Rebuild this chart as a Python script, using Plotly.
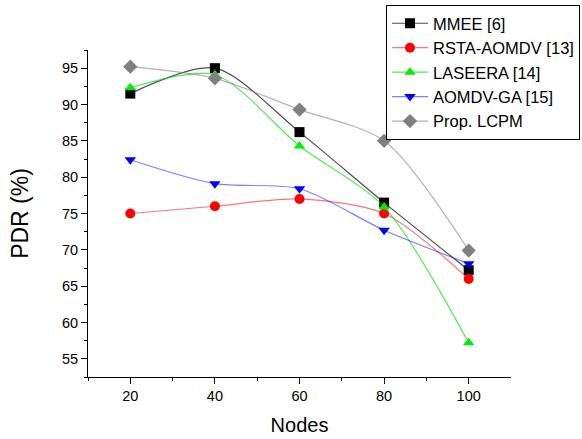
import plotly.graph_objects as go

nodes = [20, 40, 60, 80, 100]
mmee = [91.5, 95.0, 86.2, 76.5, 67.2]
rsta = [75.0, 76.0, 77.0, 75.0, 66.0]
laseera = [92.3, 94.1, 84.3, 75.9, 57.2]
aomdv_ga = [82.4, 79.1, 78.4, 72.7, 68.1]
lcpm = [95.2, 93.6, 89.3, 85.0, 69.9]

series = [
    ("MMEE [6]", mmee, "black", "rgba(0,0,0,0.7)", "square"),
    ("RSTA-AOMDV [13]", rsta, "red", "rgba(255,0,0,0.55)", "circle"),
    ("LASEERA [14]", laseera, "#00ee00", "rgba(0,230,0,0.7)", "triangle-up"),
    ("AOMDV-GA [15]", aomdv_ga, "blue", "rgba(0,0,255,0.5)", "triangle-down"),
    ("Prop. LCPM", lcpm, "gray", "rgba(128,128,128,0.6)", "diamond"),
]

fig = go.Figure()
for name, vals, mc, lc, sym in series:
    fig.add_trace(go.Scatter(
        x=nodes, y=vals, name=name, mode="lines+markers",
        line=dict(color=lc, width=1.2, shape="spline", smoothing=0.8),
        marker=dict(color=mc, symbol=sym, size=10 if sym != "diamond" else 11),
    ))

fig.update_layout(
    width=582, height=439,
    margin=dict(l=88, r=71, t=50, b=62, autoexpand=False),
    paper_bgcolor="white", plot_bgcolor="white",
    font=dict(family="Liberation Sans, Arial", size=14, color="black"),
    showlegend=True,
    legend=dict(x=1 - 2 / 582, y=1 - 5 / 439, xref="container", yref="container",
                xanchor="right", yanchor="top",
                bordercolor="black", borderwidth=1, bgcolor="white",
                font=dict(size=16.5), tracegroupgap=0, itemwidth=36),
)
fig.update_xaxes(
    range=[10, 110], tickvals=[20, 40, 60, 80, 100],
    showline=True, linecolor="black", linewidth=1, mirror=False,
    ticks="outside", ticklen=6, tickcolor="black", showgrid=False, zeroline=False,
    minor=dict(tickvals=[10, 30, 50, 70, 90], ticks="outside", ticklen=3, tickcolor="black"),
    title=dict(text="Nodes", font=dict(size=20), standoff=14),
    tickfont=dict(size=14.5), automargin=False,
)
fig.update_yaxes(
    range=[52.5, 97.5], tickvals=[55, 60, 65, 70, 75, 80, 85, 90, 95],
    showline=True, linecolor="black", linewidth=1, mirror=False,
    ticks="outside", ticklen=6, tickcolor="black", showgrid=False, zeroline=False,
    minor=dict(dtick=2.5, tick0=52.5, ticks="outside", ticklen=3, tickcolor="black"),
    title=dict(text="PDR (%)", font=dict(size=23), standoff=26),
    tickfont=dict(size=14.5), automargin=False,
)

fig.write_html("out.html")
